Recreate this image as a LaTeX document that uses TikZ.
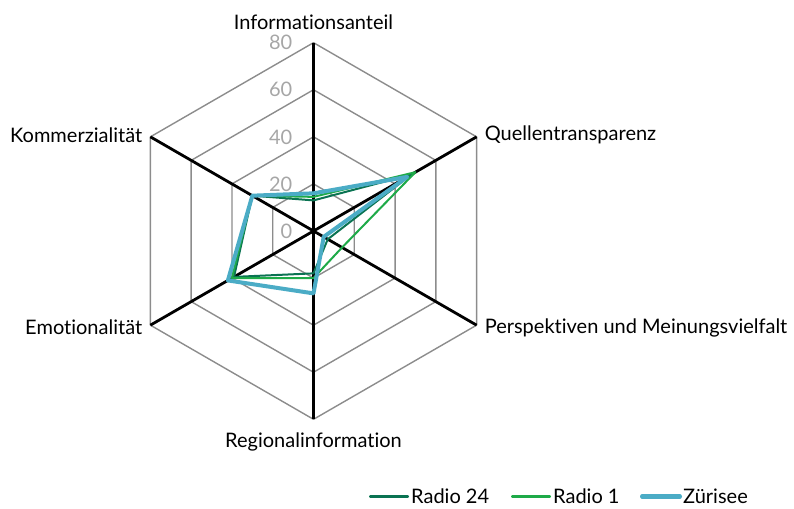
\documentclass[tikz,border=0pt]{standalone}
\usepackage{fontspec}
\setmainfont{Lato}[Ligatures=NoCommon]
\definecolor{gridgray}{RGB}{140,140,140}
\definecolor{ticklab}{RGB}{166,166,166}
\definecolor{rvierzig}{RGB}{10,115,82}
\definecolor{reins}{RGB}{30,170,72}
\definecolor{zuri}{RGB}{75,172,198}
\tikzset{
  gridline/.style={draw=gridgray, line width=1.4pt, line join=round},
  axisline/.style={draw=black, line width=2.8pt},
  ticklbl/.style={text=ticklab, font=\fontsize{20}{24}\selectfont, inner sep=0pt, anchor=east},
  catlbl/.style={text=black, font=\fontsize{20}{24}\selectfont, inner sep=0pt},
  serA/.style={draw=rvierzig, line width=2pt, line join=round},
  serB/.style={draw=reins, line width=2pt, line join=round},
  serC/.style={draw=zuri, line width=4pt, line join=round},
  leglbl/.style={text=black, font=\fontsize{20}{24}\selectfont, inner sep=0pt, anchor=west},
}
\begin{document}
\begin{tikzpicture}[x=1pt,y=1pt]
\useasboundingbox (0,0) rectangle (794,508);
\begin{scope}[shift={(313.5,277)}]
  \def\u{2.354}
  % grid rings
  \foreach \r in {20,40,60,80}{
    \draw[gridline] (90:\r*\u) -- (30:\r*\u) -- (-30:\r*\u) -- (-90:\r*\u) -- (-150:\r*\u) -- (150:\r*\u) -- cycle;
  }
  % axes
  \coordinate (c0) at (0,0);
  \foreach \a/\n in {90/ax1,30/ax2,-30/ax3,-90/ax4,-150/ax5,150/ax6}{
    \coordinate (\n) at (\a:80*\u);
    \draw[axisline] (c0) -- (\n);
  }
  % tick labels
  \foreach \v in {0,20,40,60,80}{
    \node[ticklbl] (t\v) at (-21,\v*\u) {\v};
  }
  % category labels
  \node[catlbl, anchor=south] (l1) at ([yshift=13pt]ax1) {Informationsanteil};
  \node[catlbl, anchor=west] (l2) at ([xshift=8pt,yshift=2pt]ax2) {Quellentransparenz};
  \node[catlbl, anchor=west] (l3) at ([xshift=8pt,yshift=-3pt]ax3) {Perspektiven und Meinungsvielfalt};
  \node[catlbl, anchor=north] (l4) at ([yshift=-13pt]ax4) {Regionalinformation};
  \node[catlbl, anchor=east] (l5) at ([xshift=-8pt,yshift=-2pt]ax5) {Emotionalität};
  \node[catlbl, anchor=east] (l6) at ([xshift=-8pt,yshift=2pt]ax6) {Kommerzialität};
  % data: Radio 24
  \coordinate (a1) at (90:13*\u);
  \coordinate (a2) at (30:48*\u);
  \coordinate (a3) at (-30:7*\u);
  \coordinate (a4) at (-90:18*\u);
  \coordinate (a5) at (-150:39*\u);
  \coordinate (a6) at (150:30*\u);
  % Radio 1
  \coordinate (b1) at (90:14.5*\u);
  \coordinate (b2) at (30:50*\u);
  \coordinate (b3) at (-30:14*\u);
  \coordinate (b4) at (-90:20*\u);
  \coordinate (b5) at (-150:40*\u);
  \coordinate (b6) at (150:30*\u);
  % Zuerisee
  \coordinate (z1) at (90:16*\u);
  \coordinate (z2) at (30:46*\u);
  \coordinate (z3) at (-30:5*\u);
  \coordinate (z4) at (-90:26.5*\u);
  \coordinate (z5) at (-150:42*\u);
  \coordinate (z6) at (150:30*\u);
  \draw[serA] (a1) -- (a2) -- (a3) -- (a4) -- (a5) -- (a6) -- cycle;
  \draw[serB] (b1) -- (b2) -- (b3) -- (b4) -- (b5) -- (b6) -- cycle;
  \draw[serC] (z1) -- (z2) -- (z3) -- (z4) -- (z5) -- (z6) -- cycle;
\end{scope}
% legend
\coordinate (la0) at (370,11.5);
\coordinate (la1) at (408,11.5);
\coordinate (lb0) at (512,11.5);
\coordinate (lb1) at (550,11.5);
\coordinate (lc0) at (642,11.5);
\coordinate (lc1) at (680,11.5);
\draw[serA, line cap=round] (la0) -- (la1);
\draw[serB, line cap=round] (lb0) -- (lb1);
\draw[serC, line cap=round] (lc0) -- (lc1);
\node[leglbl] (ta) at ([xshift=3pt]la1) {Radio 24};
\node[leglbl] (tb) at ([xshift=3pt]lb1) {Radio 1};
\node[leglbl] (tc) at ([xshift=3pt]lc1) {Zürisee};
\end{tikzpicture}
\end{document}
